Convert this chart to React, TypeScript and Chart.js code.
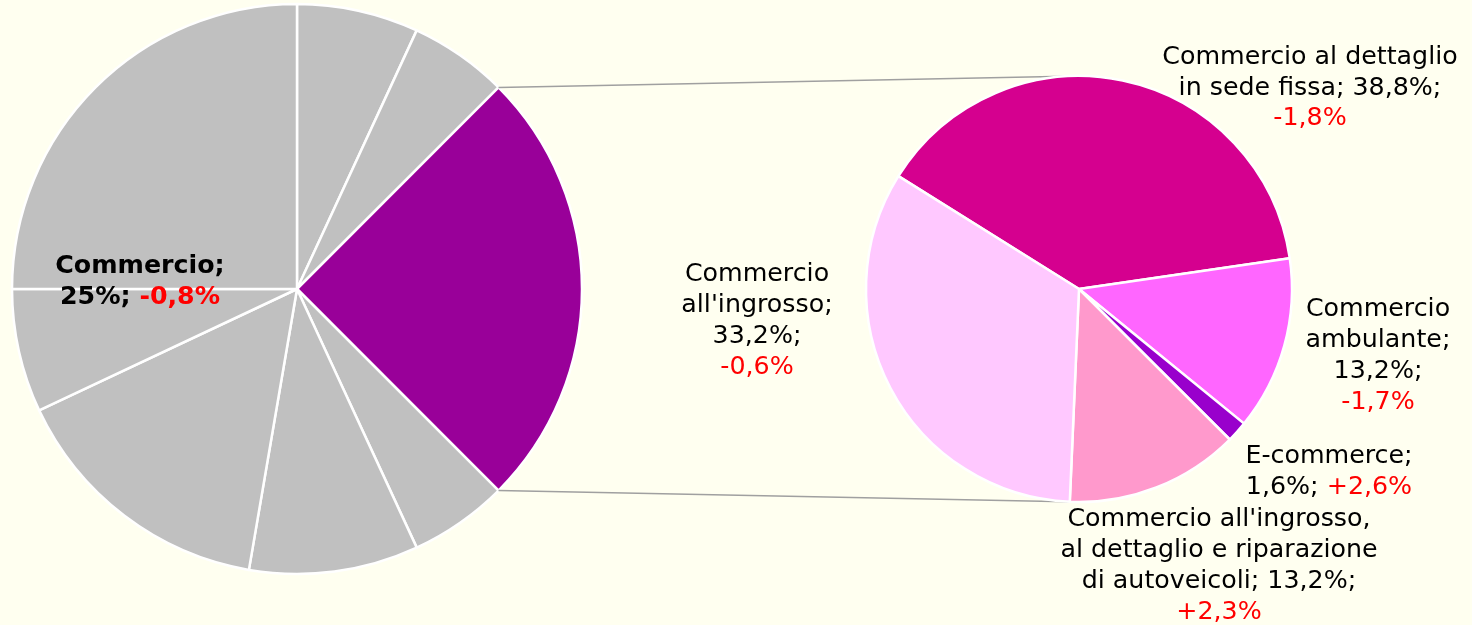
import React, { useEffect, useRef } from "react";
import { Chart, registerables } from "chart.js";

Chart.register(...registerables);

const W = 1472;
const H = 625;
const BG = "#FFFFF0";

// ---------- Left (main) pie ----------
const leftCategories = [
  "Altro settore 1",
  "Altro settore 2",
  "Commercio",
  "Altro settore 3",
  "Altro settore 4",
  "Altro settore 5",
  "Altro settore 6",
  "Altro settore 7",
];
const leftShares = [6.9, 5.6, 25, 5.6, 9.6, 15.3, 7.0, 25];
const leftHighlightIndex = 2;
const leftChanges = [null, null, -0.8, null, null, null, null, null];

// ---------- Right (detail) pie ----------
const rightCategories = [
  "Commercio al dettaglio in sede fissa",
  "Commercio ambulante",
  "E-commerce",
  "Commercio all'ingrosso, al dettaglio e riparazione di autoveicoli",
  "Commercio all'ingrosso",
];
const rightShares = [38.8, 13.2, 1.6, 13.2, 33.2];
const rightChanges = [-1.8, -1.7, 2.6, 2.3, -0.6];

// ---------- Styles / layout ----------
const GREY = "#C0C0C0";
const HIGHLIGHT = "#990099";
const rightColors = ["#D5008F", "#FF66FF", "#9900CC", "#FF99CC", "#FFC8FF"];
const FONT_FAMILY = "'DejaVu Sans', Verdana, sans-serif";
const FONT_SIZE = 25.3;
const LINE_H = 30.8;

const leftLabelLayout = { x: 140, y: 282, maxWidth: 200 };
const rightLabelLayout = [
  { x: 1310, y: 88, maxWidth: 305 },
  { x: 1378, y: 356, maxWidth: 160 },
  { x: 1329, y: 472, maxWidth: 205 },
  { x: 1219, y: 566, maxWidth: 318 },
  { x: 757, y: 321, maxWidth: 170 },
];

type Tok = { text: string; color: string };

const fmtNum = (v: number) => String(v).replace(".", ",");
const fmtChange = (v: number) => (v > 0 ? "+" : "") + fmtNum(v) + "%";

function buildTokens(name: string, share: number, change: number): Tok[] {
  const words = name.split(" ");
  const toks: Tok[] = words.map((w, i) => ({
    text: i === words.length - 1 ? w + ";" : w,
    color: "#000000",
  }));
  toks.push({ text: fmtNum(share) + "%;", color: "#000000" });
  toks.push({ text: fmtChange(change), color: "#FF0000" });
  return toks;
}

function drawWrapped(
  ctx: CanvasRenderingContext2D,
  toks: Tok[],
  cx: number,
  cy: number,
  maxWidth: number,
  font: string
) {
  ctx.save();
  ctx.font = font;
  ctx.textBaseline = "middle";
  ctx.textAlign = "left";
  const space = ctx.measureText(" ").width;
  const lines: Tok[][] = [];
  let cur: Tok[] = [];
  let curW = 0;
  for (const t of toks) {
    const w = ctx.measureText(t.text).width;
    if (cur.length && curW + space + w > maxWidth) {
      lines.push(cur);
      cur = [];
      curW = 0;
    }
    curW += (cur.length ? space : 0) + w;
    cur.push(t);
  }
  if (cur.length) lines.push(cur);
  const n = lines.length;
  lines.forEach((line, i) => {
    const y = cy + (i - (n - 1) / 2) * LINE_H;
    const widths = line.map((t) => ctx.measureText(t.text).width);
    const total = widths.reduce((a, b) => a + b, 0) + space * (line.length - 1);
    let x = cx - total / 2;
    line.forEach((t, j) => {
      ctx.fillStyle = t.color;
      ctx.fillText(t.text, x, y);
      x += widths[j] + space;
    });
  });
  ctx.restore();
}

export default function App() {
  const leftRef = useRef<HTMLCanvasElement | null>(null);
  const rightRef = useRef<HTMLCanvasElement | null>(null);

  useEffect(() => {
    if (!leftRef.current || !rightRef.current) return;

    const leftLabelPlugin = {
      id: "leftLabel",
      afterDraw(chart: any) {
        const ctx = chart.ctx as CanvasRenderingContext2D;
        drawWrapped(
          ctx,
          buildTokens(
            leftCategories[leftHighlightIndex],
            leftShares[leftHighlightIndex],
            leftChanges[leftHighlightIndex] as number
          ),
          leftLabelLayout.x,
          leftLabelLayout.y,
          leftLabelLayout.maxWidth,
          `bold ${FONT_SIZE}px ${FONT_FAMILY}`
        );
      },
    };

    const leftChart = new Chart(leftRef.current, {
      type: "pie",
      data: {
        labels: leftCategories,
        datasets: [
          {
            data: leftShares,
            backgroundColor: leftShares.map((_, i) =>
              i === leftHighlightIndex ? HIGHLIGHT : GREY
            ),
            borderColor: "#FFFFFF",
            borderWidth: 2.5,
            radius: 285,
          } as any,
        ],
      },
      options: {
        responsive: false,
        animation: false,
        events: [],
        layout: { padding: { left: 12, right: W - 582, top: 4, bottom: H - 574 } },
        plugins: { legend: { display: false }, tooltip: { enabled: false } },
      },
      plugins: [leftLabelPlugin],
    });

    const connectorPlugin = {
      id: "connectors",
      beforeDatasetsDraw(chart: any) {
        const src: any = leftChart.getDatasetMeta(0).data[leftHighlightIndex];
        const dst: any = chart.getDatasetMeta(0).data[0];
        if (!src || !dst) return;
        const ctx = chart.ctx as CanvasRenderingContext2D;
        const r = src.outerRadius;
        const p1 = { x: src.x + r * Math.cos(src.startAngle), y: src.y + r * Math.sin(src.startAngle) };
        const p2 = { x: src.x + r * Math.cos(src.endAngle), y: src.y + r * Math.sin(src.endAngle) };
        const R = dst.outerRadius;
        ctx.save();
        ctx.strokeStyle = "#A0A0A0";
        ctx.lineWidth = 1.5;
        ctx.beginPath();
        ctx.moveTo(p1.x, p1.y);
        ctx.lineTo(dst.x, dst.y - R);
        ctx.moveTo(p2.x, p2.y);
        ctx.lineTo(dst.x, dst.y + R);
        ctx.stroke();
        ctx.restore();
      },
      afterDraw(chart: any) {
        const ctx = chart.ctx as CanvasRenderingContext2D;
        rightCategories.forEach((name, i) => {
          const lay = rightLabelLayout[i];
          drawWrapped(
            ctx,
            buildTokens(name, rightShares[i], rightChanges[i]),
            lay.x,
            lay.y,
            lay.maxWidth,
            `${FONT_SIZE}px ${FONT_FAMILY}`
          );
        });
      },
    };

    const rightChart = new Chart(rightRef.current, {
      type: "pie",
      data: {
        labels: rightCategories,
        datasets: [
          {
            data: rightShares,
            backgroundColor: rightColors,
            borderColor: "#FFFFFF",
            borderWidth: 2.5,
            radius: 213,
            rotation: 302,
          } as any,
        ],
      },
      options: {
        responsive: false,
        animation: false,
        events: [],
        layout: { padding: { left: 866, right: W - 1292, top: 76, bottom: H - 502 } },
        plugins: { legend: { display: false }, tooltip: { enabled: false } },
      },
      plugins: [connectorPlugin],
    });

    return () => {
      rightChart.destroy();
      leftChart.destroy();
    };
  }, []);

  return (
    <div
      style={{
        position: "fixed",
        left: 0,
        top: 0,
        width: W,
        height: H,
        background: BG,
        overflow: "hidden",
      }}
    >
      <canvas
        ref={leftRef}
        width={W}
        height={H}
        style={{ position: "absolute", left: 0, top: 0, width: W, height: H, display: "block" }}
      />
      <canvas
        ref={rightRef}
        width={W}
        height={H}
        style={{ position: "absolute", left: 0, top: 0, width: W, height: H, display: "block" }}
      />
    </div>
  );
}
